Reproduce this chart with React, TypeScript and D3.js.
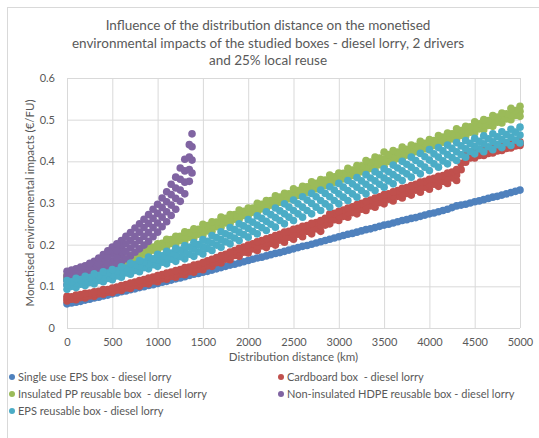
import React, { useEffect, useRef } from "react";
import { axisBottom, axisLeft, scaleLinear, select } from "d3";

// distance steps (km)
const km = [
  0, 100, 200, 300, 400, 500, 600, 700, 800, 900, 1000, 1100, 1200, 1300, 1400,
  1500, 1600, 1700, 1800, 1900, 2000, 2100, 2200, 2300, 2400, 2500, 2600, 2700,
  2800, 2900, 3000, 3100, 3200, 3300, 3400, 3500, 3600, 3700, 3800, 3900, 4000,
  4100, 4200, 4300, 4400, 4500, 4600, 4700, 4800, 4900, 5000,
];
const kmHalf = [
  50, 150, 250, 350, 450, 550, 650, 750, 850, 950, 1050, 1150, 1250, 1350, 1450,
  1550, 1650, 1750, 1850, 1950, 2050, 2150, 2250, 2350, 2450, 2550, 2650, 2750,
  2850, 2950, 3050, 3150, 3250, 3350, 3450, 3550, 3650, 3750, 3850, 3950, 4050,
  4150, 4250, 4350, 4450, 4550, 4650, 4750, 4850, 4950,
];
const kmHdpe = [0, 100, 200, 300, 400, 500, 600, 700, 800, 900, 1000, 1100, 1200, 1300, 1380];
const kmHdpeHalf = [50, 150, 250, 350, 450, 550, 650, 750, 850, 950, 1050, 1150, 1250, 1350];

// Single use EPS box
const singleUseEps = [
  0.058, 0.062, 0.067, 0.072, 0.077, 0.082, 0.087, 0.092, 0.097, 0.102, 0.107,
  0.112, 0.118, 0.123, 0.129, 0.134, 0.139, 0.145, 0.151, 0.156, 0.162, 0.168,
  0.173, 0.179, 0.184, 0.19, 0.196, 0.201, 0.207, 0.213, 0.219, 0.225, 0.23,
  0.236, 0.241, 0.247, 0.252, 0.258, 0.263, 0.268, 0.274, 0.279, 0.285, 0.293,
  0.297, 0.303, 0.308, 0.314, 0.319, 0.325, 0.331,
];
const singleUseEpsHalf = [
  0.06, 0.064, 0.069, 0.074, 0.079, 0.084, 0.089, 0.094, 0.099, 0.104, 0.11,
  0.115, 0.12, 0.126, 0.131, 0.136, 0.142, 0.148, 0.153, 0.159, 0.165, 0.17,
  0.176, 0.181, 0.187, 0.193, 0.198, 0.204, 0.21, 0.216, 0.222, 0.227, 0.233,
  0.238, 0.244, 0.249, 0.255, 0.26, 0.265, 0.271, 0.276, 0.282, 0.289, 0.295,
  0.3, 0.305, 0.311, 0.316, 0.322, 0.328,
];

// Cardboard box (rows across the cloud, lower edge to upper edge)
const cardboardLow = [
  0.065, 0.068, 0.072, 0.076, 0.081, 0.085, 0.09, 0.095, 0.1, 0.106, 0.111,
  0.117, 0.122, 0.128, 0.134, 0.14, 0.148, 0.156, 0.164, 0.172, 0.18, 0.186,
  0.193, 0.199, 0.206, 0.213, 0.219, 0.226, 0.232, 0.25, 0.258, 0.266, 0.274,
  0.282, 0.29, 0.298, 0.305, 0.312, 0.319, 0.326, 0.333, 0.34, 0.347, 0.354,
  0.398, 0.408, 0.414, 0.42, 0.426, 0.432, 0.438,
];
const cardboardLowHalf = [
  0.069, 0.073, 0.077, 0.082, 0.086, 0.091, 0.096, 0.102, 0.107, 0.113, 0.118,
  0.124, 0.129, 0.135, 0.141, 0.149, 0.157, 0.165, 0.174, 0.182, 0.19, 0.197,
  0.203, 0.211, 0.218, 0.225, 0.232, 0.238, 0.247, 0.26, 0.268, 0.277, 0.285,
  0.293, 0.301, 0.309, 0.316, 0.323, 0.331, 0.338, 0.345, 0.352, 0.36, 0.38,
  0.408, 0.414, 0.419, 0.425, 0.431, 0.437,
];
const cardboardMid = [
  0.07, 0.074, 0.077, 0.082, 0.086, 0.09, 0.097, 0.101, 0.107, 0.113, 0.118,
  0.125, 0.13, 0.136, 0.143, 0.148, 0.157, 0.165, 0.172, 0.182, 0.19, 0.196,
  0.204, 0.21, 0.218, 0.225, 0.232, 0.238, 0.245, 0.262, 0.269, 0.277, 0.285,
  0.293, 0.301, 0.309, 0.316, 0.323, 0.331, 0.338, 0.345, 0.352, 0.36, 0.367,
  0.406, 0.415, 0.42, 0.426, 0.431, 0.437, 0.442,
];
const cardboardHighHalf = [
  0.075, 0.08, 0.084, 0.088, 0.092, 0.098, 0.104, 0.11, 0.116, 0.122, 0.128,
  0.134, 0.14, 0.146, 0.153, 0.161, 0.169, 0.177, 0.186, 0.194, 0.202, 0.21,
  0.217, 0.225, 0.232, 0.239, 0.246, 0.253, 0.263, 0.275, 0.283, 0.291, 0.299,
  0.307, 0.315, 0.322, 0.33, 0.337, 0.345, 0.352, 0.359, 0.366, 0.374, 0.395,
  0.416, 0.423, 0.428, 0.433, 0.438, 0.443,
];
const cardboardHigh = [
  0.076, 0.079, 0.083, 0.087, 0.092, 0.096, 0.102, 0.108, 0.114, 0.12, 0.126,
  0.132, 0.138, 0.145, 0.151, 0.157, 0.165, 0.174, 0.182, 0.191, 0.199, 0.207,
  0.214, 0.222, 0.23, 0.237, 0.244, 0.251, 0.258, 0.274, 0.28, 0.288, 0.296,
  0.304, 0.312, 0.32, 0.327, 0.335, 0.342, 0.35, 0.357, 0.364, 0.372, 0.38,
  0.414, 0.422, 0.427, 0.432, 0.437, 0.442, 0.447,
];

// Insulated PP reusable box
const insulatedPpLow = [
  0.115, 0.12, 0.126, 0.132, 0.139, 0.145, 0.153, 0.162, 0.17, 0.179, 0.188,
  0.195, 0.202, 0.209, 0.216, 0.223, 0.232, 0.242, 0.251, 0.261, 0.27, 0.277,
  0.285, 0.293, 0.3, 0.308, 0.316, 0.324, 0.332, 0.34, 0.348, 0.356, 0.364,
  0.372, 0.38, 0.388, 0.396, 0.404, 0.412, 0.42, 0.428, 0.436, 0.444, 0.452,
  0.46, 0.468, 0.476, 0.484, 0.492, 0.5, 0.508,
];
const insulatedPpLowHalf = [
  0.12, 0.126, 0.131, 0.138, 0.144, 0.151, 0.16, 0.168, 0.177, 0.187, 0.195,
  0.203, 0.21, 0.218, 0.225, 0.233, 0.243, 0.252, 0.261, 0.27, 0.278, 0.286,
  0.295, 0.302, 0.31, 0.318, 0.326, 0.334, 0.342, 0.35, 0.358, 0.366, 0.375,
  0.383, 0.392, 0.4, 0.407, 0.415, 0.423, 0.43, 0.438, 0.446, 0.454, 0.462,
  0.47, 0.478, 0.486, 0.494, 0.502, 0.51,
];
const insulatedPpMid = [
  0.121, 0.126, 0.131, 0.137, 0.143, 0.149, 0.158, 0.166, 0.176, 0.185, 0.195,
  0.203, 0.211, 0.219, 0.227, 0.235, 0.244, 0.252, 0.262, 0.27, 0.279, 0.287,
  0.296, 0.304, 0.311, 0.32, 0.328, 0.336, 0.344, 0.352, 0.36, 0.368, 0.377,
  0.386, 0.395, 0.404, 0.411, 0.418, 0.426, 0.433, 0.44, 0.448, 0.456, 0.464,
  0.472, 0.48, 0.488, 0.496, 0.504, 0.512, 0.52,
];
const insulatedPpHighHalf = [
  0.127, 0.132, 0.137, 0.143, 0.149, 0.156, 0.165, 0.175, 0.184, 0.194, 0.203,
  0.212, 0.22, 0.229, 0.237, 0.246, 0.254, 0.263, 0.272, 0.28, 0.288, 0.297,
  0.306, 0.314, 0.322, 0.33, 0.339, 0.347, 0.355, 0.363, 0.371, 0.379, 0.389,
  0.398, 0.408, 0.416, 0.422, 0.429, 0.436, 0.443, 0.45, 0.458, 0.466, 0.474,
  0.483, 0.49, 0.498, 0.506, 0.514, 0.522,
];
const insulatedPpHigh = [
  0.127, 0.132, 0.137, 0.142, 0.149, 0.155, 0.162, 0.174, 0.182, 0.194, 0.202,
  0.213, 0.22, 0.231, 0.238, 0.249, 0.255, 0.266, 0.272, 0.283, 0.288, 0.299,
  0.306, 0.317, 0.323, 0.334, 0.34, 0.351, 0.356, 0.367, 0.372, 0.383, 0.39,
  0.402, 0.41, 0.422, 0.426, 0.434, 0.439, 0.448, 0.452, 0.462, 0.468, 0.478,
  0.484, 0.495, 0.5, 0.51, 0.516, 0.527, 0.532,
];

// Non-insulated HDPE reusable box
const hdpeLow = [0.104, 0.109, 0.115, 0.123, 0.133, 0.145, 0.159, 0.173, 0.19, 0.208, 0.23, 0.255, 0.285, 0.322, 0.372];
const hdpeQ1 = [0.115, 0.12, 0.126, 0.135, 0.147, 0.161, 0.176, 0.192, 0.21, 0.229, 0.252, 0.279, 0.311, 0.35, 0.403];
const hdpeQ2 = [0.125, 0.131, 0.138, 0.148, 0.162, 0.178, 0.193, 0.21, 0.23, 0.251, 0.275, 0.303, 0.336, 0.377, 0.435];
const hdpeHigh = [0.136, 0.142, 0.149, 0.16, 0.176, 0.194, 0.21, 0.229, 0.25, 0.272, 0.297, 0.327, 0.362, 0.405, 0.466];
const hdpeLowHalf = [0.107, 0.112, 0.119, 0.128, 0.139, 0.152, 0.166, 0.182, 0.199, 0.219, 0.243, 0.27, 0.304, 0.352];
const hdpeQ1Half = [0.118, 0.123, 0.131, 0.141, 0.154, 0.169, 0.184, 0.201, 0.22, 0.241, 0.266, 0.295, 0.331, 0.38];
const hdpeQ2Half = [0.128, 0.135, 0.143, 0.155, 0.17, 0.186, 0.202, 0.22, 0.241, 0.263, 0.289, 0.32, 0.357, 0.41];
const hdpeHighHalf = [0.139, 0.146, 0.155, 0.168, 0.185, 0.202, 0.22, 0.24, 0.261, 0.285, 0.312, 0.345, 0.384, 0.44];

// EPS reusable box
const epsReusableLow = [
  0.093, 0.097, 0.102, 0.106, 0.111, 0.116, 0.122, 0.129, 0.135, 0.142, 0.148,
  0.154, 0.16, 0.166, 0.172, 0.178, 0.186, 0.194, 0.202, 0.21, 0.218, 0.226,
  0.234, 0.242, 0.25, 0.258, 0.266, 0.274, 0.282, 0.29, 0.298, 0.306, 0.314,
  0.322, 0.33, 0.338, 0.346, 0.354, 0.362, 0.37, 0.378, 0.386, 0.394, 0.402,
  0.41, 0.418, 0.423, 0.428, 0.433, 0.438, 0.444,
];
const epsReusableLowHalf = [
  0.1, 0.105, 0.109, 0.114, 0.119, 0.125, 0.132, 0.138, 0.145, 0.152, 0.158,
  0.165, 0.171, 0.177, 0.183, 0.191, 0.199, 0.207, 0.216, 0.224, 0.232, 0.241,
  0.249, 0.258, 0.266, 0.274, 0.282, 0.29, 0.298, 0.306, 0.314, 0.322, 0.33,
  0.337, 0.345, 0.353, 0.361, 0.37, 0.378, 0.386, 0.394, 0.401, 0.409, 0.416,
  0.424, 0.43, 0.435, 0.44, 0.445, 0.451,
];
const epsReusableMid = [
  0.103, 0.108, 0.112, 0.118, 0.123, 0.128, 0.135, 0.141, 0.149, 0.155, 0.163,
  0.169, 0.176, 0.182, 0.189, 0.195, 0.204, 0.212, 0.221, 0.23, 0.239, 0.247,
  0.256, 0.265, 0.274, 0.282, 0.29, 0.299, 0.306, 0.315, 0.322, 0.33, 0.338,
  0.345, 0.353, 0.36, 0.368, 0.377, 0.386, 0.394, 0.403, 0.41, 0.416, 0.423,
  0.43, 0.436, 0.442, 0.447, 0.452, 0.458, 0.463,
];
const epsReusableHighHalf = [
  0.111, 0.116, 0.121, 0.126, 0.132, 0.137, 0.144, 0.152, 0.159, 0.166, 0.173,
  0.18, 0.187, 0.194, 0.2, 0.208, 0.217, 0.226, 0.236, 0.245, 0.254, 0.263,
  0.272, 0.281, 0.29, 0.298, 0.307, 0.315, 0.323, 0.331, 0.338, 0.346, 0.353,
  0.36, 0.368, 0.375, 0.384, 0.393, 0.402, 0.411, 0.418, 0.425, 0.431, 0.437,
  0.443, 0.448, 0.454, 0.459, 0.464, 0.47,
];
const epsReusableHigh = [
  0.114, 0.119, 0.124, 0.13, 0.135, 0.14, 0.147, 0.155, 0.162, 0.17, 0.177,
  0.184, 0.191, 0.198, 0.205, 0.212, 0.222, 0.231, 0.241, 0.25, 0.26, 0.269,
  0.279, 0.288, 0.298, 0.307, 0.315, 0.323, 0.331, 0.339, 0.347, 0.354, 0.361,
  0.368, 0.375, 0.382, 0.391, 0.4, 0.41, 0.419, 0.428, 0.433, 0.439, 0.445,
  0.45, 0.455, 0.461, 0.466, 0.471, 0.477, 0.482,
];

const xTicks = [0, 500, 1000, 1500, 2000, 2500, 3000, 3500, 4000, 4500, 5000];
const yTicks = [0, 0.1, 0.2, 0.3, 0.4, 0.5, 0.6];

const titleLines = [
  "Influence of the distribution distance on the monetised",
  "environmental impacts of the studied boxes - diesel lorry, 2 drivers",
  "and 25% local reuse",
];

// legend / drawing order as in the workbook
const series = [
  {
    name: "Single use EPS box - diesel lorry",
    color: "#4f81bd",
    rows: [[km, singleUseEps], [kmHalf, singleUseEpsHalf]],
  },
  {
    name: "Cardboard box  - diesel lorry",
    color: "#c0504d",
    rows: [[km, cardboardLow], [kmHalf, cardboardLowHalf], [km, cardboardMid], [kmHalf, cardboardHighHalf], [km, cardboardHigh]],
  },
  {
    name: "Insulated PP reusable box  - diesel lorry",
    color: "#9bbb59",
    rows: [[km, insulatedPpLow], [kmHalf, insulatedPpLowHalf], [km, insulatedPpMid], [kmHalf, insulatedPpHighHalf], [km, insulatedPpHigh]],
  },
  {
    name: "Non-insulated HDPE reusable box - diesel lorry",
    color: "#8064a2",
    rows: [
      [kmHdpe, hdpeLow], [kmHdpe, hdpeQ1], [kmHdpe, hdpeQ2], [kmHdpe, hdpeHigh],
      [kmHdpeHalf, hdpeLowHalf], [kmHdpeHalf, hdpeQ1Half], [kmHdpeHalf, hdpeQ2Half], [kmHdpeHalf, hdpeHighHalf],
    ],
  },
  {
    name: "EPS reusable box - diesel lorry",
    color: "#4bacc6",
    rows: [[km, epsReusableLow], [kmHalf, epsReusableLowHalf], [km, epsReusableMid], [kmHalf, epsReusableHighHalf], [km, epsReusableHigh]],
  },
];

const FONT = "Lato, 'Liberation Sans', sans-serif";
const TEXT = "#595959";
const GRID = "#d9d9d9";

const App = () => {
  const svgRef = useRef<SVGSVGElement>(null);
  const width = 539;
  const height = 438;
  const left = 67;
  const right = 520;
  const top = 78;
  const bottom = 328;

  useEffect(() => {
    const svg = select(svgRef.current);

    const xScale = scaleLinear().domain([0, 5000]).range([left, right]);
    const yScale = scaleLinear().domain([0, 0.6]).range([bottom, top]);

    const xAxis = axisBottom(xScale)
      .tickValues(xTicks)
      .tickSize(-(bottom - top))
      .tickPadding(10)
      .tickFormat((d) => String(d));
    const gx = svg.select(".x-axis").attr("transform", `translate(0,${bottom})`).call(xAxis as any);

    const yAxis = axisLeft(yScale)
      .tickValues(yTicks)
      .tickSize(-(right - left))
      .tickPadding(12)
      .tickFormat((d) => String(d));
    const gy = svg.select(".y-axis").attr("transform", `translate(${left},0)`).call(yAxis as any);

    [gx, gy].forEach((g) => {
      g.select(".domain").remove();
      g.selectAll(".tick line").attr("stroke", GRID).attr("stroke-width", 1);
      g.selectAll(".tick text")
        .attr("fill", TEXT)
        .style("font-family", FONT)
        .style("font-size", "11px");
    });

    svg
      .select(".points")
      .selectAll("g")
      .data(series)
      .join("g")
      .attr("fill", (s) => s.color)
      .each(function (s: any) {
        const pts = s.rows.flatMap(([xs, vs]: number[][]) => vs.map((v, i) => [xs[i], v]));
        select(this)
          .selectAll("circle")
          .data(pts)
          .join("circle")
          .attr("cx", (d: any) => xScale(d[0]))
          .attr("cy", (d: any) => yScale(d[1]))
          .attr("r", 3.8);
      });

    // legend
    const legend = svg
      .select(".legend")
      .selectAll("g")
      .data(series)
      .join("g")
      .attr("transform", (s, i) => `translate(${i % 2 === 0 ? 12 : 281},${377 + Math.floor(i / 2) * 17})`);
    legend.selectAll("circle").data((s) => [s]).join("circle").attr("r", 3).attr("fill", (s) => s.color);
    legend
      .selectAll("text")
      .data((s) => [s])
      .join("text")
      .attr("x", 6)
      .attr("dy", "0.35em")
      .attr("fill", TEXT)
      .style("font-family", FONT)
      .style("font-size", "11px")
      .style("white-space", "pre")
      .text((s) => s.name);
  }, []);

  return (
    <svg
      ref={svgRef}
      width={width}
      height={height}
      style={{ position: "absolute", left: 0, top: 0, background: "#fff" }}
    >
      <rect x={7.5} y={7.5} width={540} height={440} fill="#fff" stroke={GRID} />
      <g fontFamily={FONT} fontSize={13.5} fill={TEXT} textAnchor="middle">
        {titleLines.map((t, i) => (
          <text key={i} x={268} y={30 + i * 17.5}>
            {t}
          </text>
        ))}
      </g>
      <g className="x-axis" />
      <g className="y-axis" />
      <g className="points" />
      <text x={(left + right) / 2} y={361} textAnchor="middle" fill={TEXT} fontFamily={FONT} fontSize={11.5}>
        Distribution distance (km)
      </text>
      <text
        transform={`translate(34,${(top + bottom) / 2}) rotate(-90)`}
        textAnchor="middle"
        fill={TEXT}
        fontFamily={FONT}
        fontSize={11.5}
      >
        Monetised environmental impacts (€/FU)
      </text>
      <g className="legend" />
    </svg>
  );
};

export default App;
